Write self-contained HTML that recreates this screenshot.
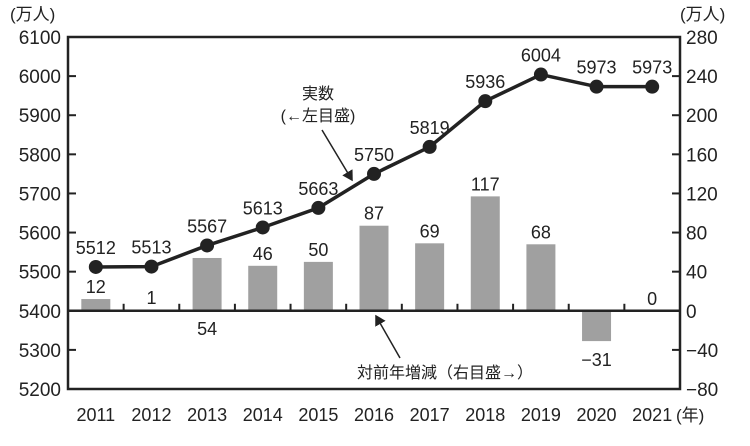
<!DOCTYPE html>
<html><head><meta charset="utf-8"><style>
body{margin:0;background:#fff}
svg text{font-family:"Liberation Sans","Noto Sans CJK JP",sans-serif;fill:#222}
</style></head><body>
<svg id="c" width="750" height="441" viewBox="0 0 750 441" xmlns="http://www.w3.org/2000/svg">
<defs><marker id="ah" markerWidth="8" markerHeight="8" refX="6" refY="4" orient="auto"><path d="M0,0 L7,4 L0,8 z" fill="#222"/></marker></defs>
<g id="g"></g>
</svg>
<script>
const years=["2011","2012","2013","2014","2015","2016","2017","2018","2019","2020","2021"];
const actual=[5512,5513,5567,5613,5663,5750,5819,5936,6004,5973,5973];
const change=[12,1,54,46,50,87,69,117,68,-31,0];
const leftTicks=[5200,5300,5400,5500,5600,5700,5800,5900,6000,6100];
const rightTicks=[-80,-40,0,40,80,120,160,200,240,280];

const NS="http://www.w3.org/2000/svg";
const g=document.getElementById('g');
const X0=68,X1=680,Y0=37,Y1=389;
const bw=(X1-X0)/years.length;
const xc=i=>X0+bw*(i+0.5);
const yL=v=>Y1-(v-5200)/900*(Y1-Y0);
const yR=v=>Y1-(v+80)/360*(Y1-Y0);
function el(t,a,txt){const e=document.createElementNS(NS,t);for(const k in a)e.setAttribute(k,a[k]);if(txt!==undefined)e.textContent=txt;g.appendChild(e);return e;}

change.forEach((v,i)=>{
  const y=Math.min(yR(v),yR(0)),h=Math.abs(yR(v)-yR(0));
  const b=el('rect',{x:xc(i)-14.5,y:y,width:29,height:Math.max(h,0),fill:'#a0a0a0'});
  
  
  let ly;
  if(v<0) ly=yR(v)+25; else if(i===2) ly=yR(0)+24; else ly=yR(v)-6;
  const t=el('text',{x:xc(i),y:ly,'text-anchor':'middle','font-size':18},v<0?'\u2212'+Math.abs(v):String(v));
  
  
});
const fr=el('rect',{x:X0,y:Y0,width:X1-X0,height:Y1-Y0,fill:'none',stroke:'#222','stroke-width':2.5});

const zl=el('line',{x1:X0,x2:X1,y1:yR(0),y2:yR(0),stroke:'#222','stroke-width':2.5});

for(let i=1;i<years.length;i++){const tk=el('line',{x1:X0+bw*i,x2:X0+bw*i,y1:yR(0),y2:yR(0)-7,stroke:'#222','stroke-width':2});
}
leftTicks.forEach(v=>{
  const t=el('text',{x:61,y:yL(v)+7,'text-anchor':'end','font-size':19},String(v));
  
  const l=el('line',{x1:X0,x2:X0+8,y1:yL(v),y2:yL(v),stroke:'#222','stroke-width':2});
  
});
rightTicks.forEach(v=>{
  const t=el('text',{x:686,y:yR(v)+7,'text-anchor':'start','font-size':19},v<0?'\u2212'+Math.abs(v):String(v));
  
  const l=el('line',{x1:X1-8,x2:X1,y1:yR(v),y2:yR(v),stroke:'#222','stroke-width':2});
  
});
years.forEach((y,i)=>{const t=el('text',{x:xc(i),y:421,'text-anchor':'middle','font-size':18},y);
});
let t1=el('text',{x:10,y:20,'font-size':17},'(万人)');
let t2=el('text',{x:680,y:20,'font-size':17},'(万人)');
let t3=el('text',{x:676,y:421,'font-size':17},'(年)');
const ln=el('polyline',{points:actual.map((v,i)=>xc(i)+','+yL(v)).join(' '),fill:'none',stroke:'#222','stroke-width':3.5});

actual.forEach((v,i)=>{
  const c=el('circle',{cx:xc(i),cy:yL(v),r:7,fill:'#222'});
  
  const t=el('text',{x:xc(i),y:yL(v)-13,'text-anchor':'middle','font-size':18},String(v));
  
});
let a1=el('text',{x:318,y:99,'text-anchor':'middle','font-size':16},'実数');
let a2=el('text',{x:318,y:121,'text-anchor':'middle','font-size':16},'(←左目盛)');
let al=el('line',{x1:322,y1:130,x2:352,y2:180,stroke:'#222','stroke-width':1.5,'marker-end':'url(#ah)'});
let a3=el('text',{x:445,y:378,'text-anchor':'middle','font-size':16},'対前年増減（右目盛→）');
let bl=el('line',{x1:400,y1:358,x2:376,y2:316,stroke:'#222','stroke-width':1.5,'marker-end':'url(#ah)'});
</script>
</body></html>
